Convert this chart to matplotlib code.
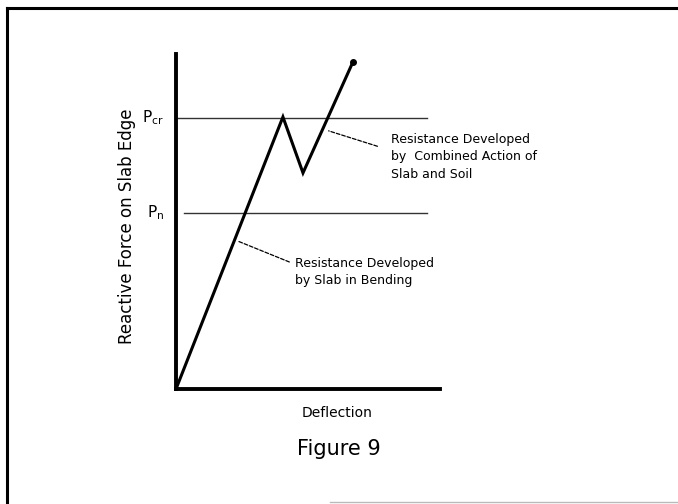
import matplotlib.pyplot as plt
from matplotlib.lines import Line2D

# load path (arbitrary units)
deflection = [0.0, 4.05, 4.81, 6.70]
force = [0.0, 8.12, 6.45, 9.76]

levels = [8.1, 5.25]
level_names = ['P$_{\\mathrm{cr}}$', 'P$_{\\mathrm{n}}$']
level_starts = [0.0, 0.3]
level_end = 9.5

fig = plt.figure(figsize=(6.78, 5.04), dpi=100)
ax = fig.add_axes([0.2596, 0.2282, 0.3894, 0.6647])
ax.set_xlim(0, 10)
ax.set_ylim(0, 10)

for s in ['top', 'right']:
    ax.spines[s].set_visible(False)
for s in ['left', 'bottom']:
    ax.spines[s].set_linewidth(2.8)
    ax.spines[s].set_color('black')
ax.set_xticks([])
ax.set_yticks([])

for lv, name, x0 in zip(levels, level_names, level_starts):
    ax.plot([x0, level_end], [lv, lv], color='#333333', lw=1.0, clip_on=False)
    ax.text(-0.45, lv, name, ha='right', va='center', fontsize=11)

ax.plot(deflection, force, color='black', lw=2.2, solid_joinstyle='miter', clip_on=False)
ax.plot(deflection[-1], force[-1], 'o', color='black', ms=4, clip_on=False)

ax.annotate('', xy=(5.68, 7.73), xytext=(7.73, 7.22),
            arrowprops=dict(arrowstyle='-', ls=(0, (3, 1.5)), lw=0.9, color='black'),
            annotation_clip=False)
ax.text(8.14, 6.93, 'Resistance Developed\nby  Combined Action of\nSlab and Soil',
        ha='left', va='center', fontsize=9, linespacing=1.45)

ax.annotate('', xy=(2.23, 4.45), xytext=(4.39, 3.76),
            arrowprops=dict(arrowstyle='-', ls=(0, (3, 1.5)), lw=0.9, color='black'),
            annotation_clip=False)
ax.text(4.5, 3.49, 'Resistance Developed\nby Slab in Bending',
        ha='left', va='center', fontsize=9, linespacing=1.45)

fig.text(0.188, 0.552, 'Reactive Force on Slab Edge', rotation=90,
         ha='center', va='center', fontsize=12)
fig.text(337 / 678, 1 - 413 / 504, 'Deflection', ha='center', va='center', fontsize=10)
fig.text(339 / 678, 1 - 449 / 504, 'Figure 9', ha='center', va='center', fontsize=15)

# scanned page border
fig.add_artist(Line2D([0.0103, 0.0103], [0.0, 0.984], color='black', lw=2.2))
fig.add_artist(Line2D([0.0103, 1.0], [0.984, 0.984], color='black', lw=2.2))
fig.add_artist(Line2D([0.487, 1.0], [0.004, 0.004], color='#bbbbbb', lw=1.0))

fig.savefig('out.png', dpi=100)
